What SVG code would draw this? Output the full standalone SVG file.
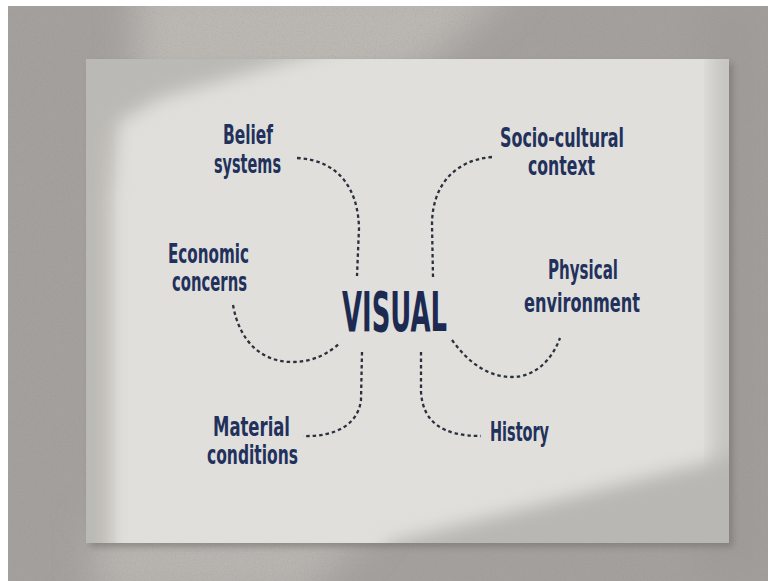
<svg xmlns="http://www.w3.org/2000/svg" width="768" height="581" viewBox="0 0 768 581">
  <defs>
    <filter id="soft" x="-20%" y="-20%" width="140%" height="140%">
      <feGaussianBlur stdDeviation="9"/>
    </filter>
    <filter id="softer" x="-30%" y="-30%" width="160%" height="160%">
      <feGaussianBlur stdDeviation="18"/>
    </filter>
    <filter id="drop" x="-10%" y="-10%" width="120%" height="120%">
      <feGaussianBlur stdDeviation="3"/>
    </filter>
    <filter id="grain" x="0" y="0" width="100%" height="100%">
      <feTurbulence type="fractalNoise" baseFrequency="0.9" numOctaves="2" seed="4"/>
      <feColorMatrix type="matrix" values="0 0 0 0 0.25  0 0 0 0 0.24  0 0 0 0 0.23  0 0 0 -1.4 0.75"/>
    </filter>
    <clipPath id="boardClip">
      <rect x="86" y="59" width="643" height="484"/>
    </clipPath>
    <clipPath id="wallClip">
      <rect x="8" y="6" width="760" height="575"/>
    </clipPath>
  </defs>
  <style>
    .label { font-family: "DejaVu Sans Condensed", "DejaVu Sans", sans-serif; font-size: 27px; font-weight: bold; fill: #22315c; }
    .title { font-family: "DejaVu Sans Condensed", "DejaVu Sans", sans-serif; font-size: 56px; font-weight: bold; fill: #1c2a52; }
    .link { fill: none; stroke: #2a303d; stroke-width: 2.3; stroke-dasharray: 3.5 3; }
  </style>

  <!-- photo frame margin -->
  <rect x="0" y="0" width="768" height="581" fill="#ffffff"/>

  <!-- wall -->
  <g clip-path="url(#wallClip)">
    <rect x="8" y="6" width="760" height="575" fill="#a3a09d"/>
    <polygon points="135,-20 520,-20 420,70 200,120 135,120" fill="#bbb8b4" filter="url(#softer)"/>
    <polygon points="95,520 380,520 300,600 95,600" fill="#b8b5b1" filter="url(#softer)"/>
    <rect x="700" y="0" width="68" height="581" fill="#9b9895" opacity="0.5" filter="url(#softer)"/>
    <rect x="8" y="6" width="760" height="575" filter="url(#grain)" opacity="0.35"/>
  </g>

  <!-- board drop shadow -->
  <rect x="90" y="63" width="643" height="484" fill="#6f6c69" opacity="0.55" filter="url(#drop)"/>

  <!-- board -->
  <g id="board" clip-path="url(#boardClip)">
    <rect x="86" y="59" width="643" height="484" fill="#e0dfdb"/>
    <!-- top-left shade and left band -->
    <polygon points="60,40 360,40 250,72 160,98 118,122 110,200 110,570 60,570" fill="#bab9b6" filter="url(#soft)"/>
    <polygon points="98,130 112,130 112,560 98,560" fill="#cbbfb3" opacity="0.35" filter="url(#soft)"/>
    <!-- right edge shade -->
    <rect x="712" y="40" width="40" height="520" fill="#c6c5c2" filter="url(#soft)"/>
    <!-- bottom-right shade -->
    <polygon points="388,543 729,457 760,450 760,570 380,570" fill="#b8b7b4" filter="url(#soft)"/>
  </g>

  <!-- connectors -->
  <g id="connectors">
    <path class="link" d="M297,158 C338,160 358,188 359,228 L357,276"/>
    <path class="link" d="M492,157 C455,160 432,185 432,225 L433,277"/>
    <path class="link" d="M233,305 C240,345 265,362 292,362 C315,362 330,352 340,343"/>
    <path class="link" d="M362,352 L361,400 C358,425 335,437 303,436"/>
    <path class="link" d="M452,340 C470,365 490,377 512,377 C535,377 552,360 560,338"/>
    <path class="link" d="M421,352 L421,392 C423,422 442,436 481,436"/>
  </g>

  <!-- nodes -->
  <g id="visual">
    <text class="title" x="342" y="331" textLength="105" lengthAdjust="spacingAndGlyphs">VISUAL</text>
  </g>
  <g id="belief-systems">
    <text class="label" x="223" y="144" textLength="50" lengthAdjust="spacingAndGlyphs">Belief</text>
    <text class="label" x="214" y="173" textLength="67" lengthAdjust="spacingAndGlyphs">systems</text>
  </g>
  <g id="economic-concerns">
    <text class="label" x="168" y="263" textLength="81" lengthAdjust="spacingAndGlyphs">Economic</text>
    <text class="label" x="172" y="291" textLength="75" lengthAdjust="spacingAndGlyphs">concerns</text>
  </g>
  <g id="material-conditions">
    <text class="label" x="213" y="436" textLength="77" lengthAdjust="spacingAndGlyphs">Material</text>
    <text class="label" x="207" y="464" textLength="91" lengthAdjust="spacingAndGlyphs">conditions</text>
  </g>
  <g id="socio-cultural-context">
    <text class="label" x="500" y="147" textLength="124" lengthAdjust="spacingAndGlyphs">Socio-cultural</text>
    <text class="label" x="528" y="175" textLength="67" lengthAdjust="spacingAndGlyphs">context</text>
  </g>
  <g id="physical-environment">
    <text class="label" x="548" y="279" textLength="70" lengthAdjust="spacingAndGlyphs">Physical</text>
    <text class="label" x="524" y="312" textLength="116" lengthAdjust="spacingAndGlyphs">environment</text>
  </g>
  <g id="history">
    <text class="label" x="490" y="441" textLength="59" lengthAdjust="spacingAndGlyphs">History</text>
  </g>
</svg>
